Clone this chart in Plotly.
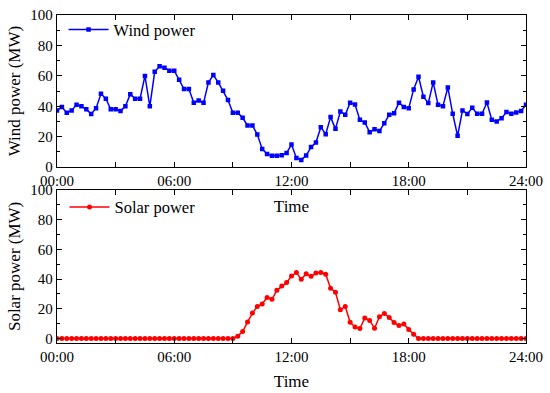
import plotly.graph_objects as go
from plotly.subplots import make_subplots

# time in hours, 15-minute steps (97 points, 00:00..24:00)
hours = [i * 0.25 for i in range(97)]

wind_power = [
    37.3, 39.5, 35.7, 37.3, 41.0, 40.0, 38.0, 35.0, 38.8, 48.2,
    45.0, 38.0, 38.0, 37.0, 40.0, 48.0, 45.0, 45.0, 60.0, 40.0,
    62.7, 66.3, 65.3, 63.4, 63.4, 57.5, 51.3, 51.3, 42.3, 43.9,
    42.3, 55.7, 60.5, 55.7, 50.2, 44.1, 35.7, 35.7, 32.5, 27.4,
    27.4, 21.5, 12.0, 8.6, 7.5, 7.5, 7.9, 9.4, 14.9, 6.1,
    4.8, 7.7, 13.2, 16.2, 26.3, 21.7, 32.9, 25.2, 36.6, 34.4,
    42.3, 41.2, 31.1, 29.4, 23.0, 25.0, 23.7, 28.9, 34.4, 35.5,
    42.3, 39.5, 38.8, 51.1, 59.4, 46.3, 42.1, 55.7, 41.0, 40.1,
    52.4, 35.1, 20.6, 37.3, 34.9, 39.0, 35.1, 35.1, 42.5, 31.1,
    30.0, 32.2, 36.2, 35.1, 36.0, 37.0, 41.0,
]

solar_power = [0.0] * 37 + [
    1.6, 4.7, 11.1, 17.1, 21.6, 23.3, 27.6, 26.4, 32.4, 35.3,
    37.6, 42.0, 44.4, 39.8, 43.6, 41.8, 44.0, 44.4, 43.3, 33.8,
    31.1, 19.3, 21.6, 10.9, 7.8, 6.7, 13.8, 12.2, 6.9, 14.7,
    16.9, 14.2, 10.7, 8.7, 9.8, 6.0, 2.9,
] + [0.0] * 23

tick_vals = [0, 6, 12, 18, 24]
tick_text = ["00:00", "06:00", "12:00", "18:00", "24:00"]

FONT = "Liberation Serif"

fig = make_subplots(rows=2, cols=1, vertical_spacing=0.07)

fig.add_trace(go.Scatter(
    x=hours, y=wind_power, mode="lines+markers", name="Wind power",
    line=dict(color="#0000ff", width=1.5),
    marker=dict(symbol="square", size=4.5, color="#0000ff"),
    legend="legend", showlegend=True,
), row=1, col=1)

fig.add_trace(go.Scatter(
    x=hours, y=solar_power, mode="lines+markers", name="Solar power",
    line=dict(color="#ff0000", width=1.5),
    marker=dict(symbol="circle", size=5, color="#ff0000"),
    legend="legend2", showlegend=True,
), row=2, col=1)

axis_common = dict(
    showline=True, linecolor="black", linewidth=1.3, mirror="allticks",
    ticks="inside", ticklen=5, tickwidth=1.2, tickcolor="black",
    showgrid=False, zeroline=False, automargin=False,
    tickfont=dict(family=FONT, size=15, color="black"),
)
title_font = dict(family=FONT, size=17, color="black")

for r, so in ((1, 11), (2, 10)):
    fig.update_xaxes(
        range=[0, 24], tickvals=tick_vals, ticktext=tick_text,
        minor=dict(tickvals=[3, 9, 15, 21], ticklen=5, tickcolor="black", tickwidth=1.2, ticks="inside"),
        title=dict(text="Time", font=title_font, standoff=so),
        row=r, col=1, **axis_common,
    )

fig.update_yaxes(
    range=[0, 100], dtick=20, minor=dict(dtick=10, ticklen=3, tickcolor="black", ticks="inside"),
    title=dict(text="Wind power (MW)", font=title_font, standoff=5),
    row=1, col=1, **axis_common,
)
fig.update_yaxes(
    range=[-3, 100], tick0=0, dtick=20, minor=dict(tick0=0, dtick=10, ticklen=3, tickcolor="black", ticks="inside"),
    title=dict(text="Solar power (MW)", font=title_font, standoff=5),
    row=2, col=1, **axis_common,
)

fig.update_layout(
    width=550, height=393,
    margin=dict(l=57, r=24, t=13, b=50),
    paper_bgcolor="white", plot_bgcolor="white",
    font=dict(family=FONT, color="black"),
    showlegend=True,
    legend=dict(x=0.014, y=1.008, xanchor="left", yanchor="top", itemwidth=40,
                bgcolor="rgba(0,0,0,0)", font=dict(family=FONT, size=16.5, color="black")),
    legend2=dict(x=0.016, y=0.467, xanchor="left", yanchor="top", itemwidth=40,
                 bgcolor="rgba(0,0,0,0)", font=dict(family=FONT, size=16.5, color="black")),
)
fig.update_yaxes(domain=[0.536, 1.0], row=1, col=1)
fig.update_yaxes(domain=[0.0, 0.467], row=2, col=1)

fig.write_html("out.html", config={"displayModeBar": False},
               post_script="document.body.style.margin='0';")
